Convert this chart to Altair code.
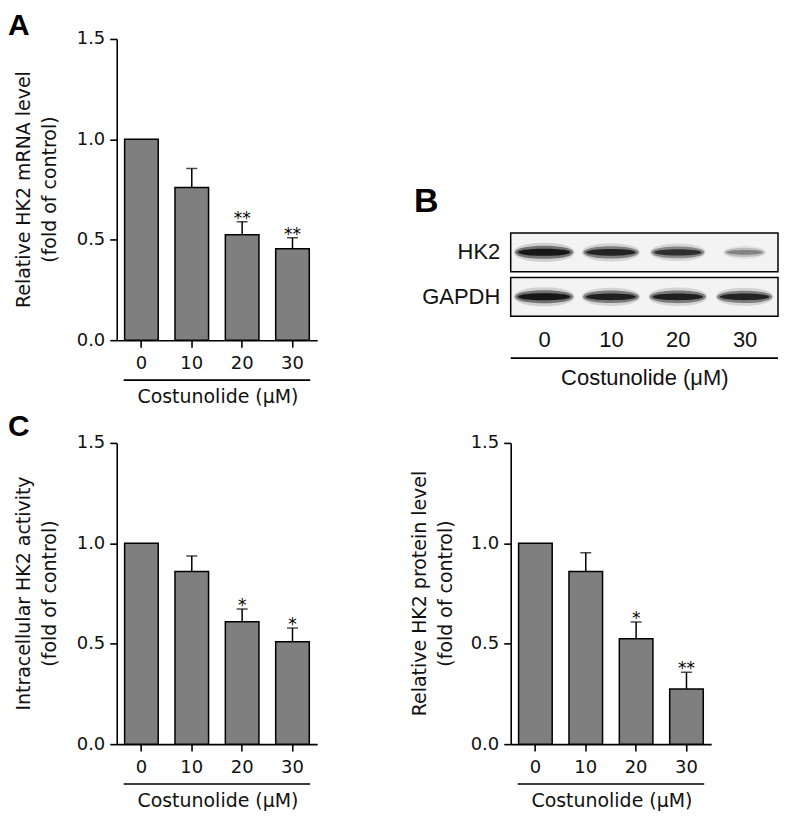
import altair as alt
import pandas as pd

# ---------------- data ----------------
doses = ["0", "10", "20", "30"]
mrna_mean = [1.00, 0.76, 0.525, 0.455]
mrna_err = [0.0, 0.095, 0.065, 0.055]
mrna_sig = ["", "", "**", "**"]
activity_mean = [1.00, 0.86, 0.61, 0.51]
activity_err = [0.0, 0.077, 0.063, 0.068]
activity_sig = ["", "", "*", "*"]
protein_mean = [1.00, 0.86, 0.525, 0.275]
protein_err = [0.0, 0.093, 0.083, 0.083]
protein_sig = ["", "", "*", "**"]
blot_rows = ["HK2", "GAPDH"]
hk2_band = [1.0, 0.9, 0.82, 0.38]
gapdh_band = [1.0, 0.92, 0.93, 0.9]
y_ticks = [0.0, 0.5, 1.0, 1.5]
x_title = "Costunolide (μM)"

# ---------------- styling ----------------
W, H = 201, 302
SANS = "DejaVu Sans"
ARIAL = "Liberation Sans"
INK = "#111111"


def one_row():
    return alt.Chart(pd.DataFrame({"k": [0]}))


def frame(left, right, top, bottom):
    return one_row().mark_rule(opacity=0, strokeOpacity=0).encode(
        x=alt.value(left), x2=alt.value(right), y=alt.value(top), y2=alt.value(bottom)
    )


def bar_panel(mean, err, sig, title_lines, letter, frame_left, frame_right,
              frame_top, letter_y, title_x):
    df = pd.DataFrame({
        "dose": doses,
        "mean": mean,
        "err": err,
        "upper": [m + e for m, e in zip(mean, err)],
        "sig": sig,
    })
    base = alt.Chart(df)
    xaxis = alt.Axis(labelAngle=0, labelFont=SANS, labelFontSize=18, labelColor=INK,
                     labelPadding=7, tickSize=7, tickWidth=1.6, tickColor="black",
                     domainColor="black", domainWidth=1.6, title=None)
    xenc = alt.X("dose:N", sort=doses, title=None,
                 scale=alt.Scale(paddingInner=0.333, paddingOuter=0.157), axis=xaxis)
    xplain = alt.X("dose:N", sort=doses, title=None)
    yscale = alt.Scale(domain=[0, 1.5], nice=False, zero=True)
    yaxis = alt.Axis(values=y_ticks, format=".1f", grid=False, title=None,
                     labelFont=SANS, labelFontSize=18, labelColor=INK, labelPadding=5,
                     tickSize=7, tickWidth=1.6, tickColor="black",
                     domainColor="black", domainWidth=1.6)
    bars = base.mark_bar(fill="#7f7f7f", stroke="black", strokeWidth=1.5).encode(
        x=xenc, y=alt.Y("mean:Q", scale=yscale, axis=yaxis, title=None)
    )
    errs = base.transform_filter("datum.err > 0")
    stems = errs.mark_rule(color="black", strokeWidth=1.5).encode(
        x=xplain, y=alt.Y("mean:Q", title=None), y2="upper:Q"
    )
    caps = errs.mark_tick(color="black", thickness=1.5, size=11).encode(
        x=xplain, y=alt.Y("upper:Q", title=None)
    )
    stars = base.mark_text(font=SANS, fontSize=17, baseline="alphabetic", color="black",
                           dy=2).encode(
        x=xplain, y=alt.Y("upper:Q", title=None), text="sig:N"
    )
    t1 = one_row().mark_text(text=title_lines[0], angle=270, align="center",
                             baseline="alphabetic", font=SANS, fontSize=19, color=INK).encode(
        x=alt.value(title_x[0]), y=alt.value(H / 2)
    )
    t2 = one_row().mark_text(text=title_lines[1], angle=270, align="center",
                             baseline="alphabetic", font=SANS, fontSize=19, color=INK).encode(
        x=alt.value(title_x[1]), y=alt.value(H / 2)
    )
    underline = one_row().mark_rule(color="black", strokeWidth=1.6).encode(
        x=alt.value(7), x2=alt.value(194), y=alt.value(H + 40)
    )
    xlab = one_row().mark_text(text=x_title, align="center", baseline="alphabetic",
                               font=SANS, fontSize=19, color=INK).encode(
        x=alt.value(W / 2 + 1), y=alt.value(H + 63)
    )
    let = one_row().mark_text(text=letter, align="left", baseline="top", font=ARIAL,
                              fontSize=30, fontWeight="bold", color="black").encode(
        x=alt.value(frame_left), y=alt.value(letter_y)
    )
    fr = frame(frame_left, frame_right, frame_top, H + 68)
    return alt.layer(fr, bars, stems, caps, stars, t1, t2, underline, xlab, let).properties(
        width=W, height=H
    )


# ---------------- panel A ----------------
panel_a = bar_panel(mrna_mean, mrna_err, mrna_sig,
                    ["Relative HK2 mRNA level", "(fold of control)"], "A",
                    -109, 289, -30, -28, (-87, -61))

# ---------------- panel B (western blot) ----------------
# view shares its top edge with panel A's plot; blot boxes sit lower via the y range
BW, BH = 268, 278
BOX_TOP = 194.5
blot_df = pd.DataFrame({
    "protein": [p for p in blot_rows for _ in doses],
    "lane": doses * 2,
    "intensity": hk2_band + gapdh_band,
})
box_df = pd.DataFrame({"protein": blot_rows})

xb = alt.X("lane:N", sort=doses, title=None,
           scale=alt.Scale(paddingInner=0.125, paddingOuter=0.0625),
           axis=alt.Axis(labelAngle=0, ticks=False, tickSize=0, domain=False,
                         labelFont=ARIAL, labelFontSize=22, labelColor=INK,
                         labelPadding=13, title=None))
yb = alt.Y("protein:N", sort=blot_rows, title=None,
           scale=alt.Scale(range=[BOX_TOP, BH], paddingInner=0.128, paddingOuter=0),
           axis=alt.Axis(ticks=False, tickSize=0, domain=False, labelFont=ARIAL,
                         labelFontSize=22, labelColor=INK, labelPadding=11, title=None))

boxes = alt.Chart(box_df).mark_rect(fill="#f3f3f3", stroke="black", strokeWidth=1.5).encode(
    y=yb, x=alt.value(0), x2=alt.value(BW)
)


def band_layer(ry, alpha, wscale):
    path = f"M -1 0 C -1 {-ry} 1 {-ry} 1 0 C 1 {ry} -1 {ry} -1 0 Z"
    return alt.Chart(blot_df).transform_calculate(
        a=f"{alpha} * datum.intensity",
        s=f"pow({wscale} * (30 + 28 * datum.intensity), 2)",
    ).mark_point(shape=path, filled=True, color="black", strokeWidth=0).encode(
        x=xb, y=yb,
        opacity=alt.Opacity("a:Q", scale=None, legend=None),
        size=alt.Size("s:Q", scale=None, legend=None),
    )


halo = band_layer(0.42, 0.14, 1.05)
body = band_layer(0.30, 0.45, 1.0)
core = band_layer(0.18, 0.8, 0.9)

b_underline = one_row().mark_rule(color="black", strokeWidth=1.6).encode(
    x=alt.value(0), x2=alt.value(BW), y=alt.value(BH + 42)
)
b_xlab = one_row().mark_text(text=x_title, align="center", baseline="alphabetic",
                             font=ARIAL, fontSize=22, color=INK).encode(
    x=alt.value(134.5), y=alt.value(BH + 68.5)
)
b_letter = one_row().mark_text(text="B", align="left", baseline="top", font=ARIAL,
                               fontSize=34, fontWeight="bold", color="black").encode(
    x=alt.value(-97), y=alt.value(146)
)
panel_b = alt.layer(frame(-104, 270, -30, H + 68), boxes, halo, body, core,
                    b_underline, b_xlab, b_letter).properties(width=BW, height=BH)

# ---------------- panel C ----------------
panel_c1 = bar_panel(activity_mean, activity_err, activity_sig,
                     ["Intracellular HK2 activity", "(fold of control)"], "C",
                     -109, 289, -35, -31, (-87, -61))
panel_c2 = bar_panel(protein_mean, protein_err, protein_sig,
                     ["Relative HK2 protein level", "(fold of control)"], "",
                     -105.7, 268.3, -35, -31, (-85, -59))

chart = alt.concat(panel_a, panel_b, panel_c1, panel_c2, columns=2, spacing=0,
                   align="each", bounds="full").properties(
    padding=0, background="white"
).configure_view(stroke=None)

chart.save("out.html", embed_options={"renderer": "svg", "actions": False})
